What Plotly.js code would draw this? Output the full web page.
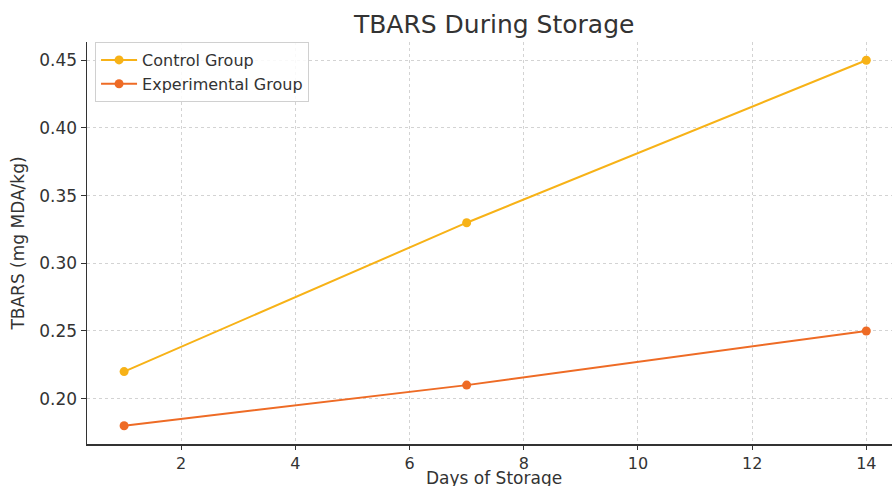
<!DOCTYPE html>
<html>
<head>
<meta charset="utf-8">
<script src="https://cdn.plot.ly/plotly-3.0.1.min.js"></script>
<style>html,body{margin:0;padding:0;background:#fff;}#chart{width:892px;height:486px;}</style>
</head>
<body>
<div id="chart"></div>
<script>
const days = [1, 7, 14];
const controlGroup = [0.22, 0.33, 0.45];
const experimentalGroup = [0.18, 0.21, 0.25];
const seriesNames = ['Control Group', 'Experimental Group'];
const xTicks = [2, 4, 6, 8, 10, 12, 14];
const yTicks = [0.20, 0.25, 0.30, 0.35, 0.40, 0.45];
const xTitle = 'Days of Storage';

const font = 'DejaVu Sans, sans-serif';
const traces = [
  {x: days, y: controlGroup, name: seriesNames[0], mode: 'lines+markers',
   line: {color: '#f7b217', width: 2}, marker: {color: '#f7b217', size: 9}},
  {x: days, y: experimentalGroup, name: seriesNames[1], mode: 'lines+markers',
   line: {color: '#ee6b25', width: 2}, marker: {color: '#ee6b25', size: 9}}
];
const layout = {
  width: 892, height: 486,
  margin: {l: 87, r: 0, t: 42, b: 42, pad: 0},
  paper_bgcolor: '#fff', plot_bgcolor: '#fff',
  font: {family: font, color: '#333', size: 17},
  title: {text: 'TBARS During Storage', font: {family: font, size: 25, color: '#333'},
          x: 0.554, xref: 'container', xanchor: 'center', y: 0.95, yref: 'container', yanchor: 'middle'},
  xaxis: {range: [0.35, 14.45], tickvals: xTicks, ticktext: xTicks.map(String),
          showgrid: true, gridcolor: '#d3d3d3', griddash: '3px,3px', gridwidth: 1,
          showline: true, linecolor: '#333', linewidth: 1.5, ticks: 'outside', ticklen: 4, tickcolor: '#333',
          zeroline: false, tickfont: {family: font, size: 16, color: '#333'}},
  yaxis: {range: [0.1665, 0.4635], tickvals: yTicks, ticktext: yTicks.map(v => v.toFixed(2)),
          showgrid: true, gridcolor: '#d3d3d3', griddash: '3px,3px', gridwidth: 1,
          showline: true, linecolor: '#333', linewidth: 1.5, ticks: 'outside', ticklen: 5, tickcolor: '#333',
          zeroline: false, tickfont: {family: font, size: 17, color: '#333'},
          title: {text: 'TBARS (mg MDA/kg)', font: {family: font, size: 17, color: '#333'}, standoff: 10}},
  annotations: [{text: xTitle, xref: 'paper', x: 0.5056, xanchor: 'center',
                 yref: 'paper', y: -0.0846, yanchor: 'middle', showarrow: false,
                 font: {family: font, size: 17, color: '#333'}}],
  showlegend: true,
  legend: {x: 0.01, y: 1.0, xanchor: 'left', yanchor: 'top', bgcolor: 'rgba(255,255,255,0.85)',
           bordercolor: '#d0d0d0', borderwidth: 1, font: {family: font, size: 16, color: '#333'},
           tracegroupgap: 0, itemwidth: 36}
};
Plotly.newPlot('chart', traces, layout, {displayModeBar: false, staticPlot: true});
</script>
</body>
</html>
